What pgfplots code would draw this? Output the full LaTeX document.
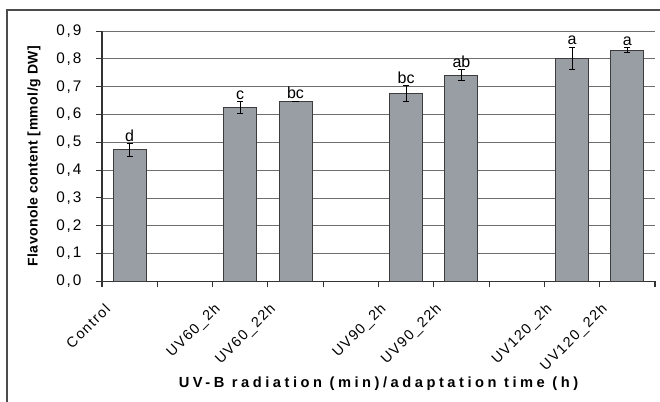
\documentclass[border=0pt]{standalone}
\usepackage{fontspec}
\setmainfont{Liberation Sans}
\newfontfamily\tickfont[LetterSpace=10]{Liberation Sans}
\newfontfamily\ytickfont[LetterSpace=12]{Liberation Sans}
\newfontfamily\labfont[LetterSpace=24]{Liberation Sans}
\newfontfamily\ylabfont[LetterSpace=3]{Liberation Sans}
\usepackage{pgfplots}
\pgfplotsset{compat=1.18}
\definecolor{barfill}{RGB}{153,158,164}
\definecolor{baredge}{RGB}{60,60,60}
\definecolor{gridc}{RGB}{110,110,110}

\begin{document}
\begin{tikzpicture}
\path[use as bounding box] (-76.5pt,-90.5pt) rectangle (418.5pt,211pt);
% outer chart frame (cut at right and bottom as in the source)
\draw[line width=1.1pt, black!70] (-71.25pt,-120pt) -- (-71.25pt,203.5pt) -- (450pt,203.5pt);
\begin{axis}[
    at={(0pt,0pt)}, anchor=south west,
    scale only axis,
    width=414.75pt, height=187.7pt,
    xmin=-0.5, xmax=9.5,
    ymin=0, ymax=0.9,
    axis x line*=bottom,
    axis y line*=left,
    axis line style={black!80, line width=0.8pt},
    ytick={0,0.1,0.2,0.3,0.4,0.5,0.6,0.7,0.8,0.9},
    ymajorgrids,
    grid style={gridc, line width=0.6pt},
    xtick={0,1,2,3,4,5,6,7,8,9},
    xticklabels={Control,,UV60\_2h,UV60\_22h,,UV90\_2h,UV90\_22h,,UV120\_2h,UV120\_22h},
    minor xtick={-0.5,0.5,1.5,2.5,3.5,4.5,5.5,6.5,7.5,8.5,9.5},
    major x tick style={draw=none},
    tick style={black!80, line width=0.8pt},
    tick align=outside,
    major tick length=4.5pt,
    minor tick length=4.5pt,
    xticklabel style={rotate=45, anchor=east, font={\tickfont\fontsize{10.8}{13}\selectfont}, xshift=-18.5pt, yshift=1.5pt},
    yticklabel style={font={\ytickfont\fontsize{11.5}{13}\selectfont}, xshift=-7.5pt},
    yticklabel={\pgfmathprintnumber[fixed, fixed zerofill, precision=1, use comma]{\tick}},
    /pgf/number format/assume math mode=true,
    xlabel={UV-B radiation (min)/adaptation time (h)},
    xlabel style={at={(axis description cs:0.5,-0.41)}, anchor=center, font={\labfont\bfseries\fontsize{11}{13}\selectfont}},
    ylabel={Flavonole content [mmol/g DW]},
    ylabel style={at={(axis description cs:-0.123,0.5)}, rotate=0, anchor=center, font={\ylabfont\bfseries\fontsize{10.5}{12}\selectfont}},
]
\addplot[ybar, bar shift=0pt, bar width=24.75pt, fill=barfill, draw=baredge, line width=0.7pt,
    error bars/.cd, y dir=both, y explicit,
    error bar style={black, line width=0.6pt},
    error mark options={rotate=90, mark size=2.3pt, line width=0.6pt, black}]
coordinates {
(0,0.473) +- (0,0.022)
(2,0.626) +- (0,0.021)
(3,0.647) +- (0,0.001)
(5,0.675) +- (0,0.029)
(6,0.742) +- (0,0.019)
(8,0.802) +- (0,0.040)
(9,0.831) +- (0,0.009)
};
% significance letters, placed at the top of each error bar
\addplot[draw=none, mark=none, nodes near coords, point meta=explicit symbolic,
    nodes near coords style={font={\fontsize{12}{14}\selectfont}, anchor=south, inner sep=0pt, yshift=1.5pt}]
coordinates {
(0,0.495) [d]
(2,0.647) [c]
(3,0.649) [bc]
(5,0.704) [bc]
(6,0.761) [ab]
(8,0.842) [a]
(9,0.840) [a]
};
\end{axis}
\end{tikzpicture}
\end{document}
